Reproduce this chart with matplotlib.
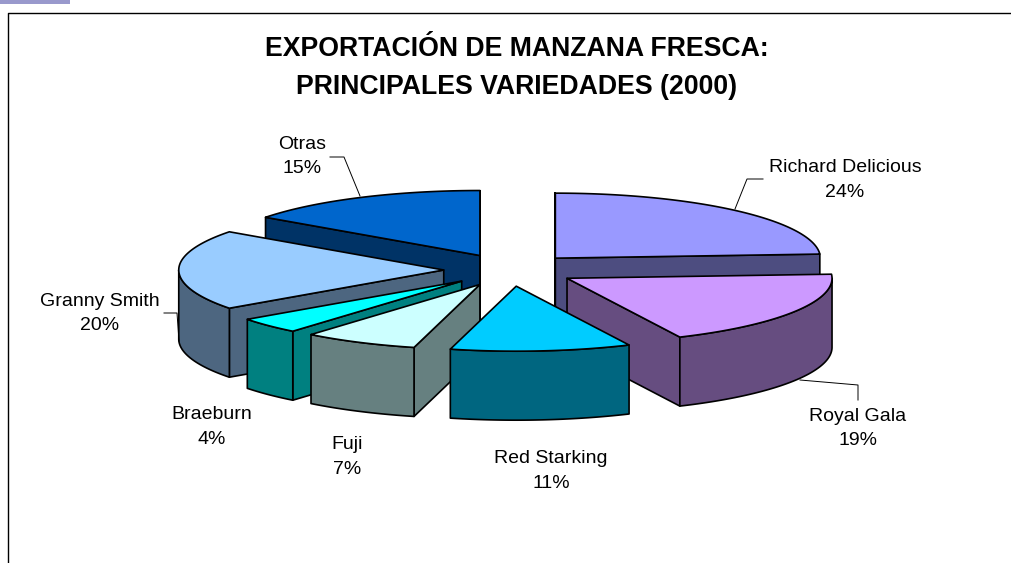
import numpy as np
import matplotlib
matplotlib.use("Agg")
import matplotlib.pyplot as plt
from matplotlib.colors import to_rgb
from matplotlib.patches import Polygon

# -----------------------------
# Chart data
# -----------------------------

varieties = ["Richard Delicious", "Royal Gala", "Red Starking", "Fuji",
             "Braeburn", "Granny Smith", "Otras"]
shares = [24, 19, 11, 7, 4, 20, 15]
top_colors = ["#9999FF", "#CC99FF", "#00CCFF", "#CCFFFF",
              "#00FFFF", "#99CCFF", "#0066CC"]

title_text = "EXPORTACIÓN DE MANZANA FRESCA:\nPRINCIPALES VARIEDADES (2000)"

# -----------------------------
# Layout (pixels of the 1012x563 picture)
# -----------------------------

center_x, center_y = 510, 270
radius_x, radius_y = 265, 65
depth = 69
explode = 0.25

# back to front
draw_order = [6, 0, 5, 1, 4, 3, 2]

label_pos = [(845, 180), (858, 428.5), (551, 471), (347, 457),
             (212, 427), (100, 313.5), (302, 156.5)]

leaders = [
    [(735, 209), (747, 179), (763, 179)],
    [(800, 380), (858, 385), (858, 400)],
    [(360, 196), (344, 157), (330, 157)],
    [(164, 313), (177, 313), (179, 341)],
]

plt.rcParams["font.family"] = ["Liberation Sans", "DejaVu Sans"]

fig = plt.figure(figsize=(10.12, 5.63), dpi=100)
ax = fig.add_axes([0, 0, 1, 1])
ax.set_xlim(0, 1012)
ax.set_ylim(563, 0)
ax.axis("off")


def rim(apex, angles):
    # points on the ellipse, angle in degrees clockwise from 12 o'clock
    rad = np.radians(angles)
    return np.column_stack([apex[0] + radius_x * np.sin(rad),
                            apex[1] - radius_y * np.cos(rad)])


def add_face(points, color):
    ax.add_patch(Polygon(points, closed=True, facecolor=color,
                         edgecolor="black", linewidth=1.2, joinstyle="round"))


# -----------------------------
# Pie slices
# -----------------------------

ends = np.cumsum(shares) / sum(shares) * 360
starts = ends - np.array(shares) / sum(shares) * 360

for i in draw_order:
    a, b = starts[i], ends[i]
    mid = np.radians((a + b) / 2)
    apex = (center_x + explode * radius_x * np.sin(mid),
            center_y - explode * radius_y * np.cos(mid))
    wall = tuple(c * 0.5 for c in to_rgb(top_colors[i]))
    drop = np.array([0, depth])

    # cut faces, only the ones turned to the viewer
    for angle, visible in [(a, np.sin(np.radians(a)) < 0.01),
                           (b, np.sin(np.radians(b)) > -0.01)]:
        if visible:
            p = rim(apex, [angle])[0]
            add_face([apex, p, p + drop, np.array(apex) + drop], wall)

    # outer wall, front half of the rim
    lo, hi = max(a, 90), min(b, 270)
    if hi > lo:
        arc = rim(apex, np.linspace(lo, hi, 60))
        add_face(np.vstack([arc, arc[::-1] + drop]), wall)

    # top face
    arc = rim(apex, np.linspace(a, b, 120))
    add_face(np.vstack([[apex], arc]), top_colors[i])

# -----------------------------
# Labels and leader lines
# -----------------------------

for name, share, (x, y) in zip(varieties, shares, label_pos):
    ax.text(x, y, f"{name}\n{share}%", ha="center", va="center",
            fontsize=14, linespacing=1.6, color="black")

for line in leaders:
    xs, ys = zip(*line)
    ax.plot(xs, ys, color="black", linewidth=0.7)

ax.text(516.5, 68.5, title_text, ha="center", va="center", fontsize=19.2,
        fontweight="bold", linespacing=1.6, color="black")

# -----------------------------
# Chart frame and corner tab
# -----------------------------

ax.plot([8.5, 8.5, 1012], [563, 12.5, 12.5], color="black", linewidth=1.0)
ax.fill_between([0, 70], 0, 3.5, color="#9999CC", linewidth=0)

fig.savefig("out.png", dpi=100, facecolor="white")
